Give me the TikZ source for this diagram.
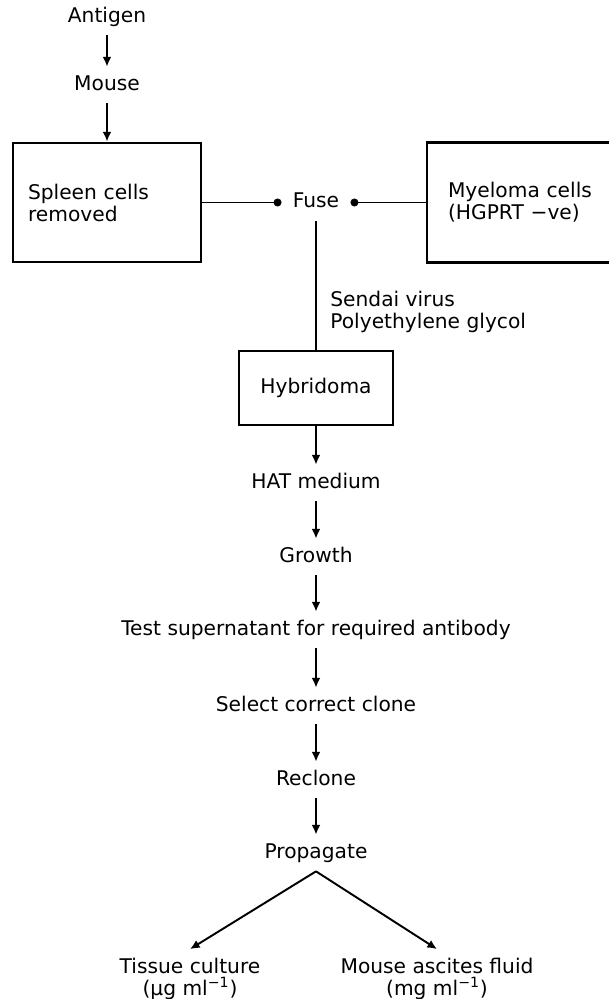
\documentclass[tikz,border=0pt]{standalone}
\usepackage{fontspec}
\setmainfont{DejaVu Sans}
\usetikzlibrary{arrows.meta}

\begin{document}
\begin{tikzpicture}[x=0.02cm,y=-0.02cm]
        \tikzset{stage/.style={font=\fontsize{11.5}{12.5}\selectfont, text height=8.5pt, text depth=2.5pt, inner sep=0pt, minimum height=0.72cm},
                 note/.style={font=\fontsize{11.5}{12.5}\selectfont, inner sep=0pt},
                 cellbox/.style={draw, line width=1.6pt, font=\fontsize{11.5}{12.5}\selectfont},
                 flow/.style={-{Latex[length=5.5pt,width=5pt]}, line width=1.1pt},
                 fuseline/.style={line width=0.8pt, -{Circle[length=4.5pt]}}}
        \useasboundingbox (0,0) rectangle (608,999);

        \node [stage] (antigen) at (107,17) {Antigen};
        \node [stage] (mouse) at (107,85) {Mouse};
        \node [cellbox, minimum width=3.76cm, minimum height=2.38cm, inner xsep=0.3cm, text width=3.16cm, align=left] (spleen) at (107,202.5) {Spleen cells\\removed};
        \node [cellbox, minimum width=3.86cm, minimum height=2.4cm, inner xsep=0.42cm, text width=3.02cm, align=left] (myeloma) at (523.5,202.5) {Myeloma cells\\(HGPRT −ve)};
        \node [stage, inner xsep=0.22cm] (fuse) at (316,202.5) {Fuse};
        \node [note, anchor=west, align=left] (agents) at (330,311.5) {Sendai virus\\Polyethylene glycol};
        \node [cellbox, minimum width=3.08cm, minimum height=1.48cm] (hybridoma) at (316,388) {Hybridoma};
        \node [stage] (hat) at (316,483) {HAT medium};
        \node [stage] (growth) at (316,557) {Growth};
        \node [stage] (test) at (316,630) {Test supernatant for required antibody};
        \node [stage] (select) at (316,706) {Select correct clone};
        \node [stage] (reclone) at (316,780) {Reclone};
        \node [stage] (propagate) at (316,853) {Propagate};
        \node [note, align=center, inner ysep=5pt] (tissue) at (190,979) {Tissue culture\\(µg ml\textsuperscript{−1})};
        \node [note, align=center, inner ysep=5pt] (ascites) at (437,979) {Mouse ascites fluid\\(mg ml\textsuperscript{−1})};

        \draw [flow] (antigen) -- (mouse);
        \draw [flow] (mouse) -- (spleen);
        \draw [fuseline] (spleen.east) -- (fuse.west);
        \draw [fuseline] (myeloma.west) -- (fuse.east);
        \draw [line width=0.8pt] (fuse.south) -- (hybridoma.north);
        \draw [flow, line width=1.6pt] (hybridoma) -- (hat);
        \draw [flow] (hat) -- (growth);
        \draw [flow] (growth) -- (test);
        \draw [flow] (test) -- (select);
        \draw [flow] (select) -- (reclone);
        \draw [flow] (reclone) -- (propagate);
        \draw [flow] (propagate.south) -- (tissue.north);
        \draw [flow] (propagate.south) -- (ascites.north);
    \end{tikzpicture}
\end{document}
